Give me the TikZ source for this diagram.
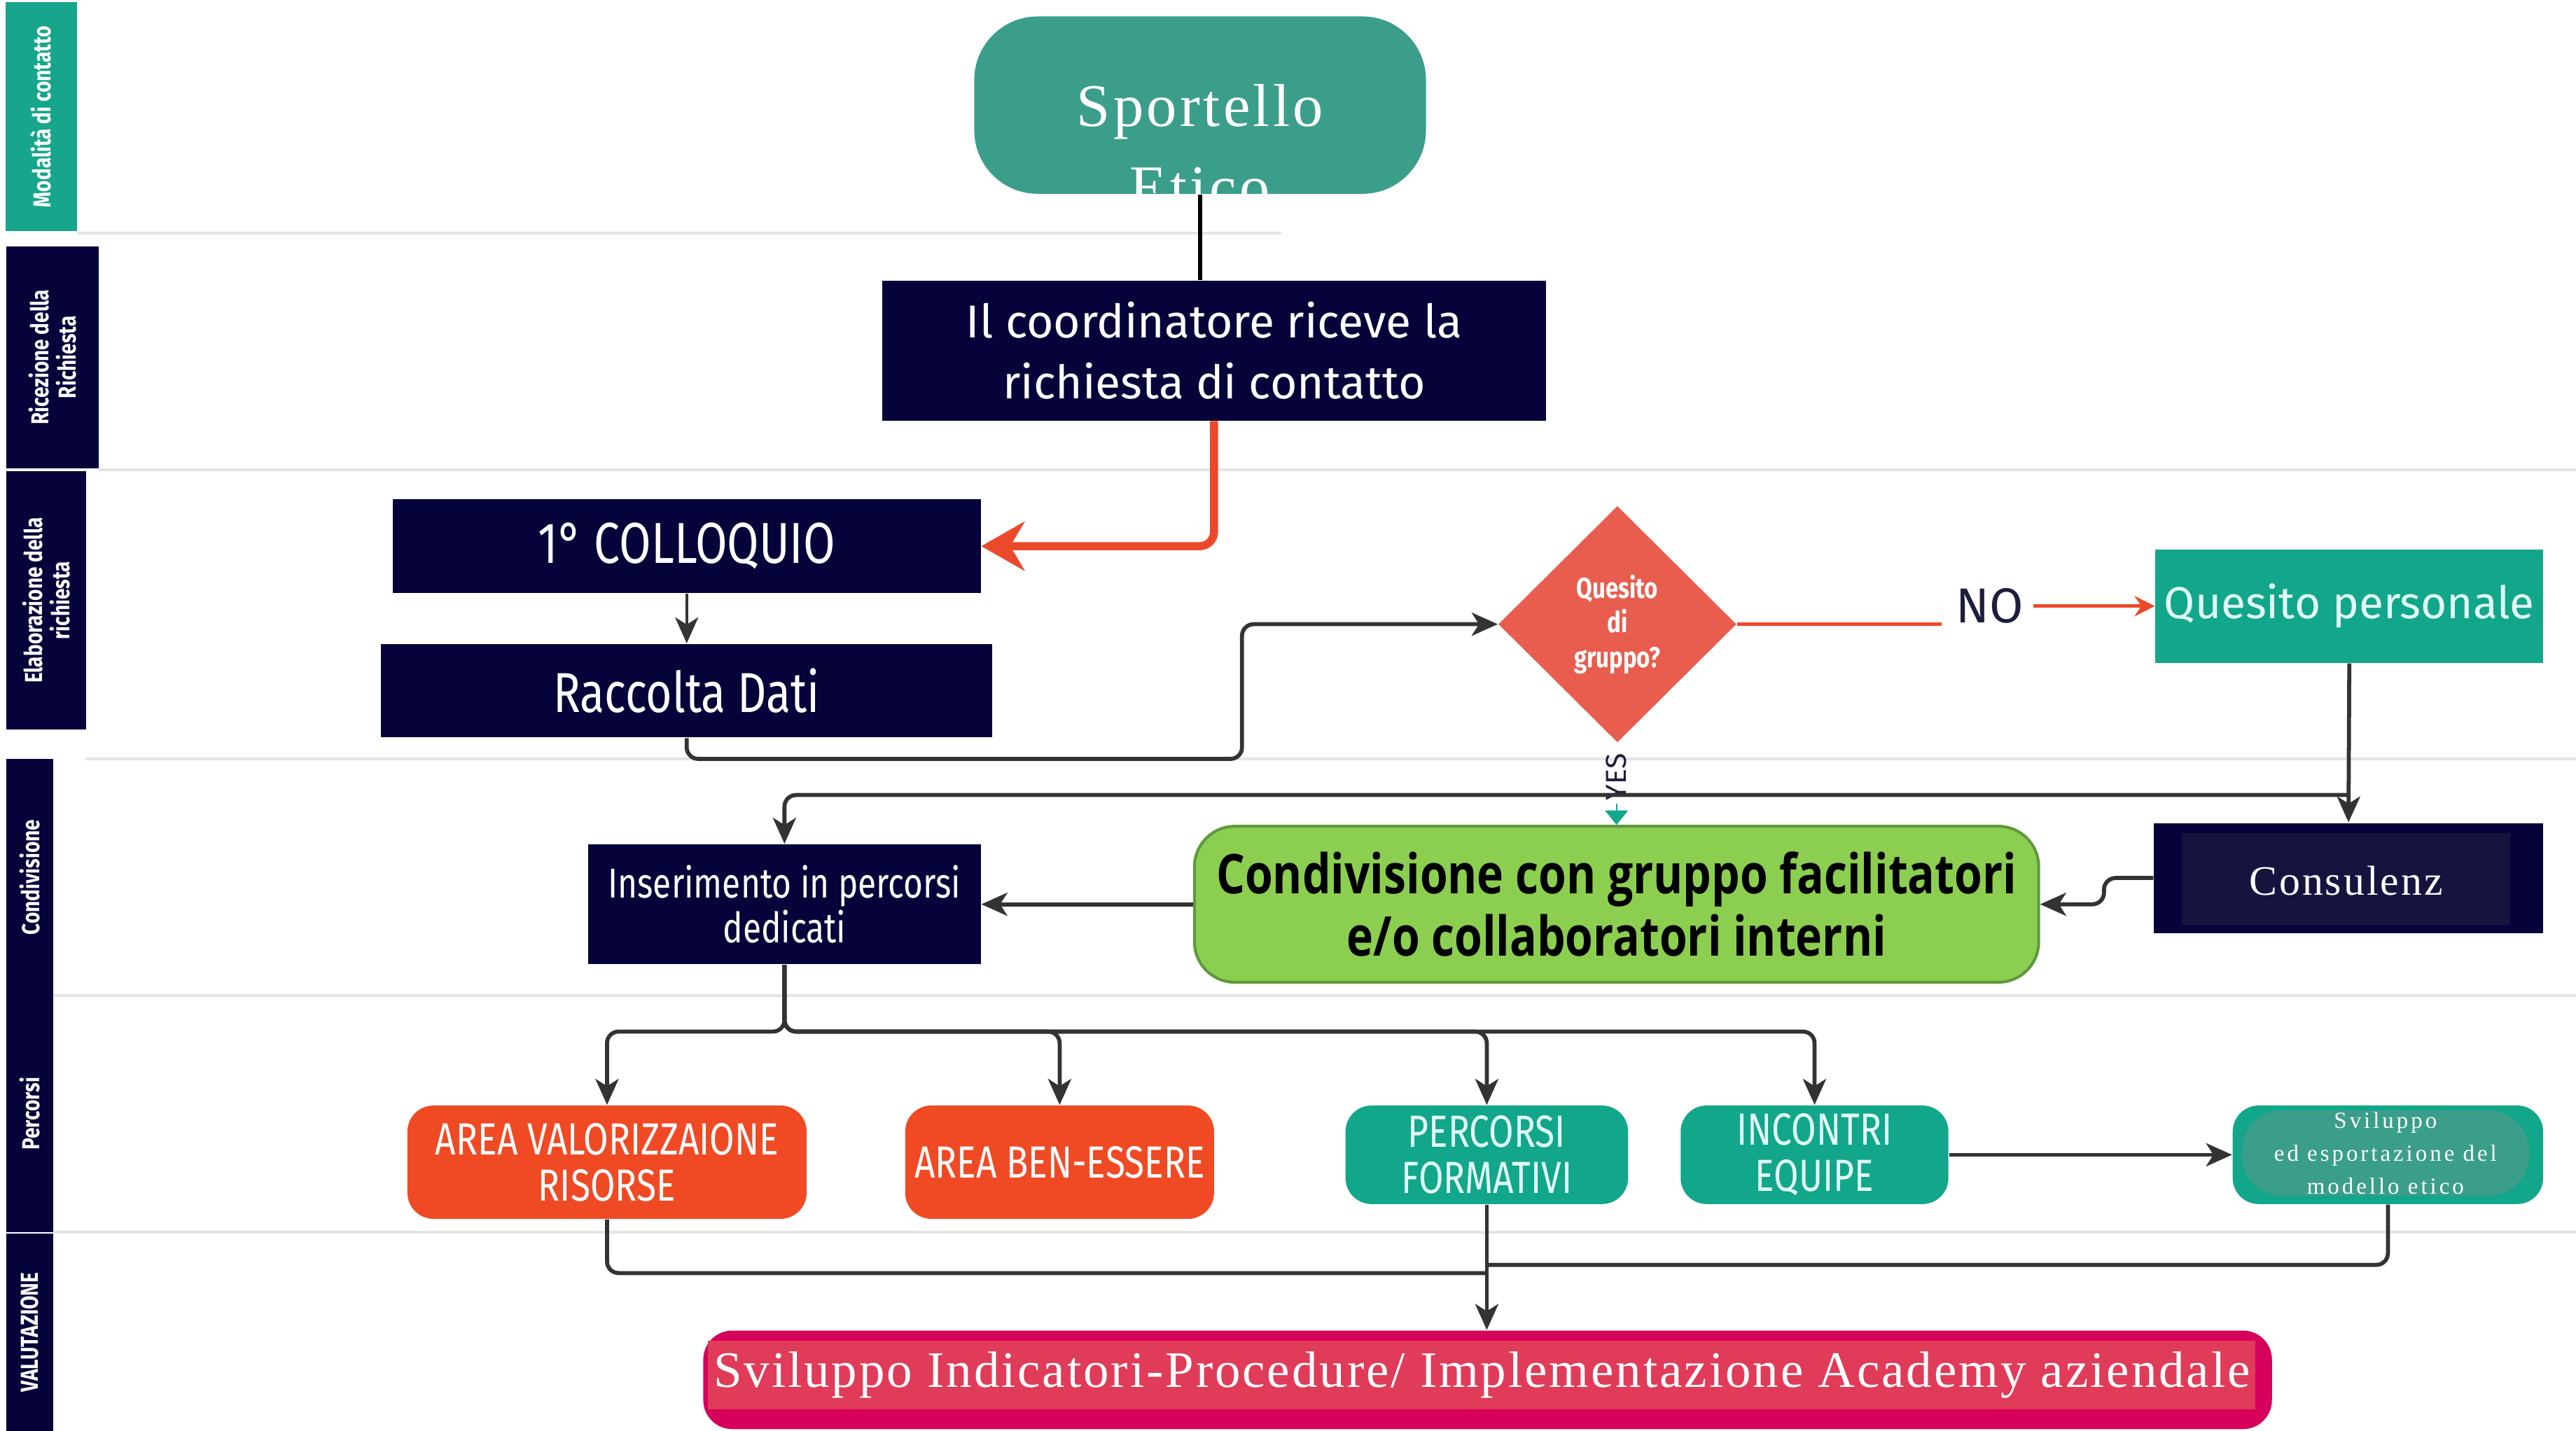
\documentclass[tikz,border=0pt]{standalone}
\usepackage{fontspec}
\setmainfont{Liberation Serif}
\newfontfamily\spacedserif[LetterSpace=5]{Liberation Serif}
\newfontfamily\smallspaced[LetterSpace=12]{Liberation Serif}
\newfontfamily\bottomserif[LetterSpace=4]{Liberation Serif}
\newfontfamily\plexsans{Fira Sans}
\newfontfamily\condsans[FakeStretch=0.8]{Fira Sans}
\newfontfamily\boldcond[FakeStretch=0.82]{Open Sans}
\usetikzlibrary{%
  arrows,%
  arrows.meta,%
  shapes.geometric,% wg. diamond
  positioning,%
  calc%
}

\definecolor{navy}{HTML}{05033A}
\definecolor{laneteal}{HTML}{17A68B}
\definecolor{sporteal}{HTML}{3B9E8A}
\definecolor{diamondred}{HTML}{E85D4D}
\definecolor{arrowred}{HTML}{EB4A2A}
\definecolor{areaorange}{HTML}{F04A24}
\definecolor{qteal}{HTML}{12A68A}
\definecolor{qtext}{HTML}{E2FFF8}
\definecolor{condgreen}{HTML}{8CCF50}
\definecolor{condborder}{HTML}{5E9A3C}
\definecolor{consinner}{HTML}{16143F}
\definecolor{crimson}{HTML}{D6015B}
\definecolor{crimsoninner}{HTML}{E03B58}
\definecolor{linegray}{HTML}{333333}
\definecolor{sepgray}{HTML}{E4E4E4}
\definecolor{notext}{HTML}{1E1E3C}

\begin{document}
\begin{tikzpicture}
[x=0.02cm, y=-0.02cm, >={Stealth[length=9pt,width=8pt,inset=2.5pt]},
lane/.style={rectangle, fill=navy, text=white, inner sep=0pt, rotate=90, align=center, font=\condsans\bfseries\fontsize{8.5}{9.5}\selectfont},
navybox/.style={rectangle, fill=navy, text=white, inner sep=0pt, align=center},
orangebox/.style={rectangle, rounded corners=9pt, fill=areaorange, text=white, inner sep=0pt, align=center, font=\condsans\fontsize{15.6}{16}\selectfont},
tealbox/.style={rectangle, rounded corners=9pt, fill=qteal, text=qtext, inner sep=0pt, align=center, font=\condsans\fontsize{15.6}{16}\selectfont},
arr/.style={->, draw=linegray, line width=1.4pt, rounded corners=4pt},
plain/.style={draw=linegray, line width=1.4pt, rounded corners=4pt},
sep/.style={draw=sepgray, line width=1pt}]

\useasboundingbox (0,0) rectangle (1568,871);

% swimlanes
\draw[sep] (47,142) -- (780,142);
\foreach \y/\x in {286/60, 462/52, 606/32, 750/32} {
  \draw[sep] (\x,\y) -- (1568,\y);
}
\node[lane, fill=laneteal, minimum width=2.79cm, minimum height=0.87cm] (lmod) at (25,71) {Modalità di contatto};
\node[lane, minimum width=2.70cm, minimum height=1.13cm] (lric) at (32,217.5) {Ricezione della\\Richiesta};
\node[lane, minimum width=3.14cm, minimum height=0.97cm] (lela) at (28,365.5) {Elaborazione della\\richiesta};
\node[lane, minimum width=2.88cm, minimum height=0.57cm] (lcon) at (18,534) {Condivisione};
\node[lane, minimum width=2.88cm, minimum height=0.57cm] (lper) at (18,678) {Percorsi};
\node[lane, minimum width=2.40cm, minimum height=0.57cm] (lval) at (18,811) {VALUTAZIONE};

% contatto e ricezione
\node[rectangle, rounded corners=22pt, fill=sporteal, minimum width=5.5cm, minimum height=2.16cm] (sport) at (730.5,64) {};
\node[text=white, align=center, font=\spacedserif\fontsize{21}{28}\selectfont] (sporttxt) at (730.5,89) {Sportello\\Etico};
\node[navybox, minimum width=8.08cm, minimum height=1.70cm, font=\plexsans\fontsize{16}{21}\selectfont] (coord) at (739,213.5) {Il coordinatore riceve la\\richiesta di contatto};

% elaborazione
\node[navybox, minimum width=7.16cm, minimum height=1.14cm, font=\condsans\fontsize{20}{22}\selectfont] (coll) at (418,332.5) {1° COLLOQUIO};
\node[navybox, minimum width=7.44cm, minimum height=1.14cm, font=\condsans\fontsize{19.5}{22}\selectfont] (racc) at (418,420.5) {Raccolta Dati};
\node[diamond, fill=diamondred, minimum width=2.9cm, minimum height=2.88cm, inner sep=0pt, text=white, align=center, font=\condsans\bfseries\fontsize{10}{12}\selectfont] (dq) at (984.5,380) {Quesito\\di\\gruppo?};
\node[text=notext, font=\plexsans\fontsize{17}{20}\selectfont] (no) at (1211,369) {NO};
\node[rectangle, fill=qteal, minimum width=4.72cm, minimum height=1.38cm, inner sep=0pt, text=qtext, font=\plexsans\fontsize{15.5}{18}\selectfont] (qp) at (1430,369) {Quesito personale};
\coordinate (noend) at (1182,380);
\coordinate (bend) at (756,462);

% condivisione
\node[text=notext, rotate=90, inner sep=1pt, font=\plexsans\fontsize{10}{12}\selectfont] (yes) at (984,473) {YES};
\node[rectangle, rounded corners=14pt, fill=condgreen, draw=condborder, line width=1pt, minimum width=10.28cm, minimum height=1.9cm, inner sep=0pt, align=center, font=\boldcond\bfseries\fontsize{19}{21.5}\selectfont] (cond) at (984,550.5) {Condivisione con gruppo facilitatori\\e/o collaboratori interni};
\node[navybox, minimum width=4.78cm, minimum height=1.46cm, font=\condsans\fontsize{14.5}{15.5}\selectfont] (ins) at (477.5,550.5) {Inserimento in percorsi\\dedicati};
\node[navybox, minimum width=4.74cm, minimum height=1.34cm] (cons) at (1429.5,534.5) {};
\node[rectangle, fill=consinner, minimum width=4.0cm, minimum height=1.12cm, inner sep=0pt] (consin) at (1428,535) {};
\node[anchor=north, inner sep=0pt, text=white, align=center, font=\spacedserif\fontsize{14.5}{20}\selectfont] (constxt) at (1428,527) {Consulenz\\a};
\coordinate (split) at (1430,484);

% percorsi
\node[orangebox, minimum width=4.86cm, minimum height=1.38cm] (av) at (369.5,707.5) {AREA VALORIZZAIONE\\RISORSE};
\node[orangebox, minimum width=3.76cm, minimum height=1.38cm] (ab) at (645,707.5) {AREA BEN-ESSERE};
\node[tealbox, minimum width=3.44cm, minimum height=1.2cm] (pf) at (905,703) {PERCORSI\\FORMATIVI};
\node[tealbox, minimum width=3.26cm, minimum height=1.2cm] (ie) at (1104.5,703) {INCONTRI\\EQUIPE};
\node[tealbox, minimum width=3.78cm, minimum height=1.2cm] (sv) at (1453.5,703) {};
\node[rectangle, rounded corners=14pt, fill=sporteal, minimum width=3.5cm, minimum height=1.04cm, inner sep=0pt, text=white, align=center, font=\smallspaced\fontsize{8}{11.4}\selectfont] (svtxt) at (1452,702) {Sviluppo\\ed esportazione del\\modello etico};
\coordinate (bus) at (477.5,628);

% valutazione
\node[rectangle, rounded corners=10pt, fill=crimson, minimum width=19.1cm, minimum height=1.2cm, inner sep=0pt] (si) at (905.5,840) {};
\node[rectangle, fill=crimsoninner, minimum width=18.84cm, minimum height=0.84cm, inner sep=0pt, text=white, font=\bottomserif\fontsize{17.7}{20}\selectfont] (sitxt) at (902,837) {Sviluppo Indicatori-Procedure/ Implementazione Academy aziendale};
\coordinate (joinl) at (905,775);
\coordinate (joinr) at (905,770);

% connectors
\draw[draw=black, line width=1.5pt] (sport.south) -- (sport.south |- coord.north);
\draw[draw=arrowred, line width=2.8pt, rounded corners=5pt, -{Stealth[length=15pt,width=17pt,inset=5pt]}] (coord.south) |- (coll.east);
\draw[arr, line width=1pt] (coll.south) -- (racc.north);
\draw[arr] (racc.south) |- (bend) |- (dq.west);
\draw[draw=arrowred, line width=1.3pt] (dq.east) -- (noend);
\draw[draw=arrowred, line width=1.3pt, -{Stealth[length=7pt,width=7pt]}] (no.east) -- (no.east -| qp.west);
\draw[arr] (qp.south) -- (cons.north);
\draw[arr] (split) -| (ins.north);
\draw[draw=qteal, line width=0.5pt, -{Triangle[length=5pt,width=8pt]}] (yes.west) -- (cond.north);
\draw[arr] (cons.west) -- ++(-30,0) |- (cond.east);
\draw[arr] (cond.west) -- (ins.east);
\foreach \n in {av,ab,pf,ie} {
  \draw[arr] (ins.south) |- (bus -| \n.north) -- (\n.north);
}
\draw[arr] (ie.east) -- (sv.west);
\draw[plain] (av.south) |- (joinl);
\draw[plain] (sv.south) |- (joinr);
\draw[arr] (pf.south) -- (pf.south |- si.north);
\end{tikzpicture}
\end{document}
